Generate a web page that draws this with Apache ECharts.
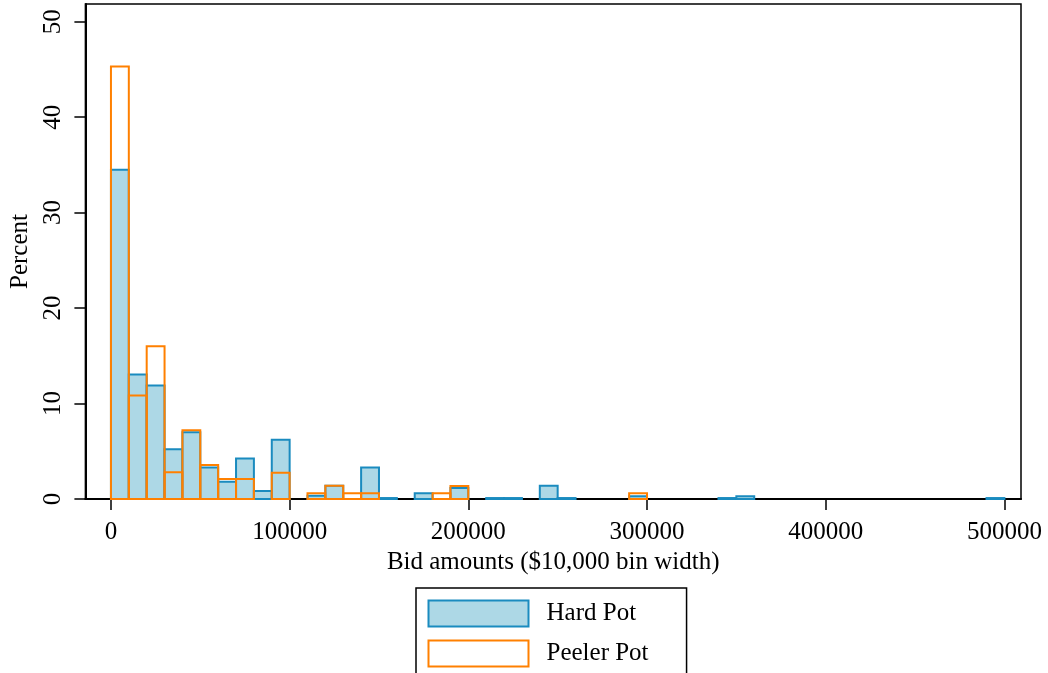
<!DOCTYPE html>
<html><head><meta charset="utf-8">
<script src="https://cdn.jsdelivr.net/npm/echarts@6/dist/echarts.min.js"></script>
<style>html,body{margin:0;padding:0;background:#fff}#c{width:1048px;height:673px}</style>
</head><body><div id="c"></div>
<script>
var BIN_WIDTH = 10000;
var seriesNames = ['Hard Pot', 'Peeler Pot'];
// Percent per $10,000 bin, bins starting at 0
var hardPot = [34.5, 13.05, 11.9, 5.2, 7.0, 3.3, 1.8, 4.25, 0.85, 6.2,
  0, 0.35, 1.4, 0, 3.3, 0.1, 0, 0.6, 0, 1.15,
  0, 0.1, 0.1, 0, 1.4, 0.1, 0, 0, 0, 0.3,
  0, 0, 0, 0, 0.1, 0.3, 0, 0, 0, 0,
  0, 0, 0, 0, 0, 0, 0, 0, 0, 0.1];
var peelerPot = [45.3, 10.85, 16.0, 2.8, 7.2, 3.55, 2.1, 2.1, 0, 2.75,
  0, 0.6, 1.4, 0.6, 0.6, 0, 0, 0, 0.6, 1.35,
  0, 0, 0, 0, 0, 0, 0, 0, 0, 0.6,
  0, 0, 0, 0, 0, 0, 0, 0, 0, 0,
  0, 0, 0, 0, 0, 0, 0, 0, 0, 0];
var xTicks = [0, 100000, 200000, 300000, 400000, 500000];
var yTicks = [0, 10, 20, 30, 40, 50];

var FONT = 'Liberation Serif';
var BLUE = '#1a8bbf', LIGHT = '#add8e6', ORANGE = '#ff8000';

function toBins(arr) {
  var out = [];
  arr.forEach(function (v, i) { if (v > 0) out.push([i * BIN_WIDTH, (i + 1) * BIN_WIDTH, v]); });
  return out;
}
function render(fill, stroke) {
  return function (params, api) {
    var p0 = api.coord([api.value(0), api.value(2)]);
    var p1 = api.coord([api.value(1), 0]);
    return { type: 'rect',
      shape: { x: p0[0], y: p0[1], width: p1[0] - p0[0], height: p1[1] - p0[1] },
      style: { fill: fill, stroke: stroke, lineWidth: 2 } };
  };
}

var chart = echarts.init(document.getElementById('c'), null, { renderer: 'canvas' });
chart.setOption({
  animation: false,
  backgroundColor: '#fff',
  textStyle: { fontFamily: FONT, color: '#000' },
  grid: { left: 81, top: 4, right: 27, bottom: 174, show: true, borderColor: '#000', borderWidth: 1.5, containLabel: false },
  xAxis: {
    type: 'value', min: -14300, max: 509300,
    name: 'Bid amounts ($10,000 bin width)', nameLocation: 'middle', nameGap: 48,
    nameTextStyle: { fontFamily: FONT, fontSize: 25, color: '#000' },
    axisLine: { show: true, onZero: false, lineStyle: { color: '#000', width: 2 } },
    axisTick: { show: true, length: 11, customValues: xTicks, lineStyle: { color: '#000', width: 1.5 } },
    axisLabel: { customValues: xTicks, margin: 21, fontFamily: FONT, fontSize: 25, color: '#000',
      formatter: function (v) { return String(v); } },
    splitLine: { show: false }
  },
  yAxis: {
    type: 'value', min: 0, max: 51.85,
    name: 'Percent', nameLocation: 'middle', nameGap: 48.5,
    nameTextStyle: { fontFamily: FONT, fontSize: 25, color: '#000' },
    axisLine: { show: true, onZero: false, lineStyle: { color: '#000', width: 2 } },
    axisTick: { show: true, length: 11, customValues: yTicks, lineStyle: { color: '#000', width: 1.5 } },
    axisLabel: { customValues: yTicks, rotate: 90, margin: 19.5, fontFamily: FONT, fontSize: 25, color: '#000',
      formatter: function (v) { return String(v); } },
    splitLine: { show: false }
  },
  legend: {
    left: 416, top: 588, height: 70, orient: 'vertical',
    padding: [11.5, 38, 11.5, 11.5],
    itemWidth: 100, itemHeight: 26, itemGap: 12,
    borderColor: '#000', borderWidth: 1.5, backgroundColor: '#fff',
    textStyle: { fontFamily: FONT, fontSize: 25, color: '#000', padding: [0, 0, 0, 13] },
    data: [
      { name: seriesNames[0], icon: 'rect', itemStyle: { color: LIGHT, borderColor: BLUE, borderWidth: 2 } },
      { name: seriesNames[1], icon: 'rect', itemStyle: { color: '#fff', borderColor: ORANGE, borderWidth: 2 } }
    ]
  },
  series: [
    { name: seriesNames[0], type: 'custom', renderItem: render(LIGHT, BLUE), data: toBins(hardPot),
      encode: { x: [0, 1], y: 2 }, itemStyle: { color: LIGHT, borderColor: BLUE, borderWidth: 2 } },
    { name: seriesNames[1], type: 'custom', renderItem: render('rgba(0,0,0,0)', ORANGE), data: toBins(peelerPot),
      encode: { x: [0, 1], y: 2 }, itemStyle: { color: '#fff', borderColor: ORANGE, borderWidth: 2 } }
  ]
});
</script></body></html>
